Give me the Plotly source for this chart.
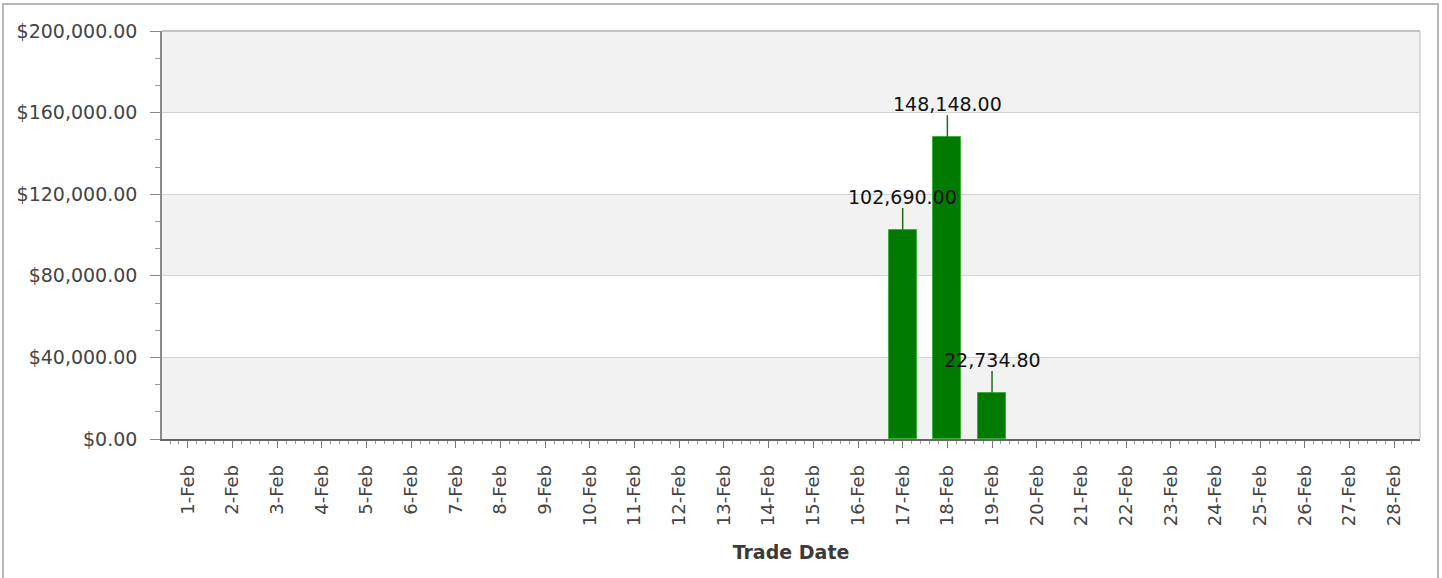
import plotly.graph_objects as go

# Trade dates shown on the category axis
trade_dates = [
    "1-Feb", "2-Feb", "3-Feb", "4-Feb", "5-Feb", "6-Feb", "7-Feb",
    "8-Feb", "9-Feb", "10-Feb", "11-Feb", "12-Feb", "13-Feb", "14-Feb",
    "15-Feb", "16-Feb", "17-Feb", "18-Feb", "19-Feb", "20-Feb", "21-Feb",
    "22-Feb", "23-Feb", "24-Feb", "25-Feb", "26-Feb", "27-Feb", "28-Feb",
]

# Traded amount per date
trade_amounts = [
    0, 0, 0, 0, 0, 0, 0,
    0, 0, 0, 0, 0, 0, 0,
    0, 0, 102690.00, 148148.00, 22734.80, 0, 0,
    0, 0, 0, 0, 0, 0, 0,
]

y_ticks = [0, 40000, 80000, 120000, 160000, 200000]

FONT = "DejaVu Sans"
TICK_COLOR = "#444444"

pos = list(range(len(trade_dates)))
bar_x = [i for i, v in zip(pos, trade_amounts) if v > 0]
bar_y = [v for v in trade_amounts if v > 0]

fig = go.Figure()
fig.add_trace(go.Bar(
    x=bar_x,
    y=bar_y,
    width=0.63,
    marker=dict(color="#007a00", line=dict(color="#3fae3f", width=1)),
    hoverinfo="skip",
))

# Value callouts with a short leader line above each bar
annotations = []
for x, v in zip(bar_x, bar_y):
    annotations.append(dict(
        x=x, y=v, xref="x", yref="y",
        text=f"{v:,.2f}",
        showarrow=True, arrowhead=0, arrowwidth=1.5, arrowcolor="#1f6b1f",
        ax=0, ay=-33, borderpad=0,
        font=dict(family=FONT, size=19, color="#111111"),
    ))

# Alternating horizontal bands behind the grid
shapes = []
for k in range(len(y_ticks) - 1):
    if k % 2 == 0:
        shapes.append(dict(
            type="rect", xref="paper", yref="y",
            x0=0, x1=1, y0=y_ticks[k], y1=y_ticks[k + 1],
            fillcolor="#f2f2f2", line=dict(width=0), layer="below",
        ))
# Frame lines on top and right of the plotting area
shapes.append(dict(type="line", xref="paper", yref="paper", x0=0, x1=1, y0=1, y1=1,
                   line=dict(color="#b0b0b0", width=1.5)))
shapes.append(dict(type="line", xref="paper", yref="paper", x0=1, x1=1, y0=0, y1=1,
                   line=dict(color="#d0d0d0", width=1.5)))
# Outer chart border
W, H = 1442, 578
L, R, T, B = 162, 22, 31, 139
pw, ph = W - L - R, H - T - B
shapes.append(dict(
    type="rect", xref="paper", yref="paper",
    x0=(3 - L) / pw, x1=(1438 - L) / pw,
    y0=(H - 600 - B) / ph, y1=(H - 4 - B) / ph,
    line=dict(color="#b8b8b8", width=2), fillcolor="rgba(0,0,0,0)", layer="below",
))

fig.update_layout(
    width=W, height=H,
    margin=dict(l=L, r=R, t=T, b=B, pad=0),
    paper_bgcolor="white",
    plot_bgcolor="white",
    showlegend=False,
    annotations=annotations,
    shapes=shapes,
    bargap=0,
)

fig.update_xaxes(
    range=[-0.58, 27.58],
    tickvals=pos,
    ticktext=trade_dates,
    tickangle=-90,
    ticks="outside", ticklen=7, tickcolor="#777777", tickwidth=1,
    minor=dict(dtick=0.2, tick0=0, ticks="outside", ticklen=3, tickcolor="#999999"),
    showgrid=False, zeroline=False,
    showline=True, linecolor="#666666", linewidth=1.5,
    tickfont=dict(family=FONT, size=18, color=TICK_COLOR),
    ticklabelstandoff=10,
    title=dict(text="<b>Trade Date</b>", font=dict(family=FONT, size=19, color="#3a3a3a"), standoff=20),
)

fig.update_yaxes(
    range=[0, 200000],
    tickvals=y_ticks,
    tickformat="$,.2f",
    ticks="outside", ticklen=10, tickcolor="#888888", tickwidth=1,
    minor=dict(dtick=40000 / 3, tick0=0, ticks="outside", ticklen=5, tickcolor="#999999"),
    showgrid=True, gridcolor="#d3d3d3", gridwidth=1,
    zeroline=False,
    showline=True, linecolor="#8a8a8a", linewidth=1.5,
    tickfont=dict(family=FONT, size=19, color=TICK_COLOR),
    ticklabelstandoff=9,
)

fig.write_html("out.html")
